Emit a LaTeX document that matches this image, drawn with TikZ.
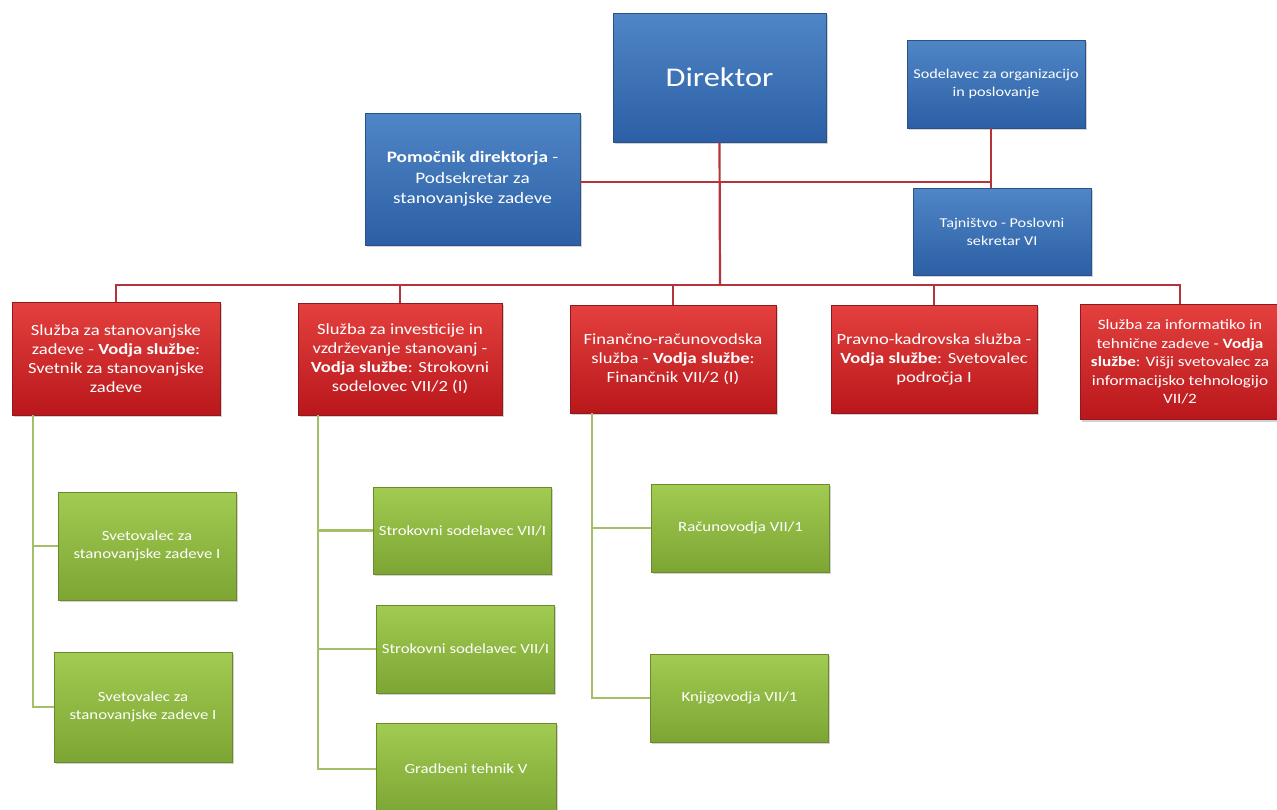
\documentclass[tikz,border=0pt]{standalone}
\usepackage{fontspec}
\setmainfont{Carlito}[FakeStretch=1.2]
\usetikzlibrary{shadows}
\definecolor{bluetop}{HTML}{4F86C6}
\definecolor{bluebot}{HTML}{2C5FA5}
\definecolor{blueedge}{HTML}{2A5287}
\definecolor{redtop}{HTML}{E3403E}
\definecolor{redbot}{HTML}{BA171C}
\definecolor{rededge}{HTML}{8E1A1D}
\definecolor{greentop}{HTML}{A2CB52}
\definecolor{greenbot}{HTML}{7CA534}
\definecolor{greenedge}{HTML}{6A8A2C}
\definecolor{redline}{HTML}{B4343A}
\definecolor{greenline}{HTML}{A3BF68}
\tikzset{
  box/.style={rectangle, align=center, text=white, inner sep=2pt,
    drop shadow={shadow xshift=1.5pt, shadow yshift=-2pt, opacity=0.35}},
  bluebox/.style={box, top color=bluetop, bottom color=bluebot, draw=blueedge, line width=0.6pt},
  redbox/.style={box, top color=redtop, bottom color=redbot, draw=rededge, line width=0.6pt,
    font=\fontsize{15.5}{19}\selectfont},
  greenbox/.style={box, top color=greentop, bottom color=greenbot, draw=greenedge, line width=0.6pt,
    minimum width=178pt, font=\fontsize{14}{18}\selectfont},
  redcon/.style={draw=redline, line width=2.2pt},
  greencon/.style={draw=greenline, line width=2.5pt},
}
\begin{document}
\begin{tikzpicture}[x=1pt,y=-1pt]
\useasboundingbox (0,0) rectangle (1277,809);
\fill[white] (0,0) rectangle (1277,809);
\clip (0,0) rectangle (1277,809);

\coordinate (bus) at (720,285);
\coordinate (j) at (991,182);
\coordinate (c1) at (33,415);
\coordinate (c2) at (318,415);
\coordinate (c3) at (592,413);

% blue boxes
\node[bluebox, minimum width=213pt, minimum height=129pt, font=\fontsize{27}{31}\selectfont] (dir) at (719.5,77.5) {Direktor};
\node[bluebox, minimum width=178pt, minimum height=88pt, font=\fontsize{13.5}{18}\selectfont] (sod) at (996,84) {Sodelavec za organizacijo\\in poslovanje};
\node[bluebox, minimum width=215pt, minimum height=132pt, font=\fontsize{16}{20.5}\selectfont] (pom) at (472.5,179) {\textbf{Pomočnik direktorja} -\\Podsekretar za\\stanovanjske zadeve};
\node[bluebox, minimum width=178pt, minimum height=87pt, font=\fontsize{13.5}{18}\selectfont] (taj) at (1002,231.5) {Tajništvo - Poslovni\\sekretar VI};

% red boxes
\node[redbox, minimum width=208pt, minimum height=113pt] (r1) at (116,358.5) {Služba za stanovanjske\\zadeve - \textbf{Vodja službe}:\\Svetnik za stanovanjske\\zadeve};
\node[redbox, minimum width=204pt, minimum height=112pt] (r2) at (400,359) {Služba za investicije in\\vzdrževanje stanovanj -\\\textbf{Vodja službe}: Strokovni\\sodelovec VII/2 (I)};
\node[redbox, minimum width=206pt, minimum height=108pt] (r3) at (673,359) {Finančno-računovodska\\služba - \textbf{Vodja službe}:\\Finančnik VII/2 (I)};
\node[redbox, minimum width=206pt, minimum height=108pt] (r4) at (934,359) {Pravno-kadrovska služba -\\\textbf{Vodja službe}: Svetovalec\\področja I};
\node[redbox, minimum width=200pt, minimum height=115pt, font=\fontsize{14.3}{18.5}\selectfont] (r5) at (1180,362) {Služba za informatiko in\\tehnične zadeve - \textbf{Vodja}\\\textbf{službe}: Višji svetovalec za\\informacijsko tehnologijo\\VII/2};

% green boxes
\node[greenbox, minimum height=108pt] (gA) at (147,546) {Svetovalec za\\stanovanjske zadeve I};
\node[greenbox, minimum height=110pt] (gB) at (143,707) {Svetovalec za\\stanovanjske zadeve I};
\node[greenbox, minimum height=87pt] (gC) at (462.5,530.5) {Strokovni sodelavec VII/I};
\node[greenbox, minimum height=88pt] (gD) at (465.5,649) {Strokovni sodelavec VII/I};
\node[greenbox, minimum height=92pt, minimum width=180pt] (gE) at (466,769) {Gradbeni tehnik V};
\node[greenbox, minimum height=88pt] (gF) at (740.5,528) {Računovodja VII/1};
\node[greenbox, minimum height=88pt] (gG) at (739.5,698) {Knjigovodja VII/1};

% red connectors
\draw[redcon] (dir.south) -- (bus);
\draw[redcon] (r1.north) |- (bus) -| (r5.north);
\draw[redcon] (r2.north) -- (r2.north |- bus);
\draw[redcon] (r3.north) -- (r3.north |- bus);
\draw[redcon] (r4.north) -- (r4.north |- bus);
\draw[redcon] (pom.east |- j) -- (j);
\draw[redcon] (j |- sod.south) -- (j |- taj.north);

% green connectors
\draw[greencon] (c1) |- (gA.west);
\draw[greencon] (c1) |- (gB.west);
\draw[greencon] (c2) |- (gC.west);
\draw[greencon] (c2) |- (gD.west);
\draw[greencon] (c2) |- (gE.west);
\draw[greencon] (c3) |- (gF.west);
\draw[greencon] (c3) |- (gG.west);
\end{tikzpicture}
\end{document}
